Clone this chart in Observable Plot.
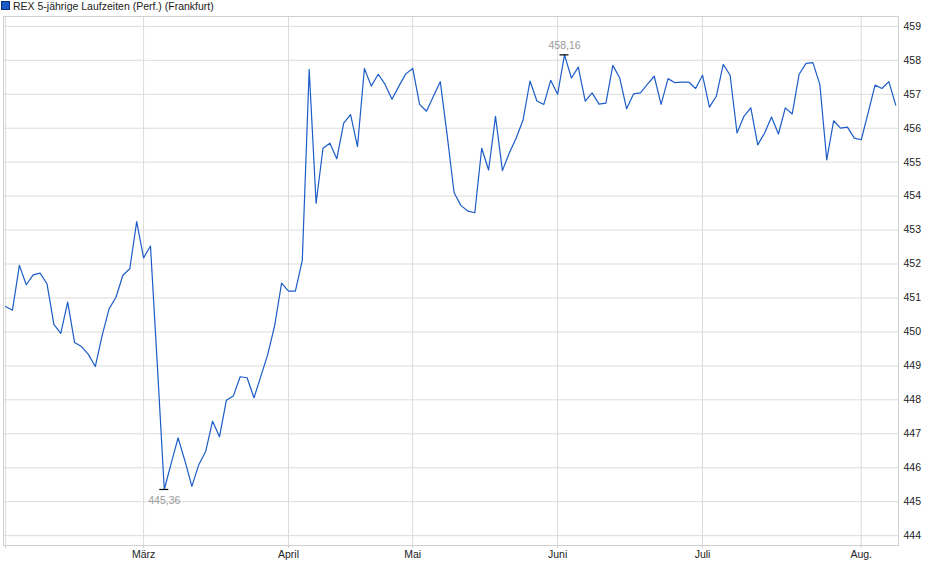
<!DOCTYPE html>
<html><head><meta charset="utf-8">
<script src="https://cdn.jsdelivr.net/npm/d3@7"></script>
<script src="https://cdn.jsdelivr.net/npm/@observablehq/plot@0.6"></script>
<style>
body{margin:0;background:#fff;font-family:"Liberation Sans",Arial,sans-serif;}
#legend{height:15px;font-size:10.5px;color:#222;line-height:13px;padding-left:1px;white-space:nowrap;box-sizing:border-box;padding-top:0px}
#legend .sw{display:inline-block;width:7px;height:7px;background:#1c5cc7;border:1px solid #0a2f7a;margin-right:3px;vertical-align:-0px}
</style></head><body>
<div id="legend"><span class="sw"></span><span id="lt"></span></div>
<div id="chart"></div>
<script>
const seriesName = "REX 5-jährige Laufzeiten (Perf.) (Frankfurt)";
const values = [
 450.75, 450.64, 451.96, 451.39, 451.68, 451.73, 451.42, 450.22, 449.96, 450.88,
 449.69, 449.57, 449.34, 448.98, 449.90, 450.68, 451.02, 451.67, 451.86, 453.25,
 452.18, 452.53, 449.00, 445.36, 446.13, 446.88, 446.20, 445.45, 446.09, 446.48,
 447.37, 446.91, 447.99, 448.11, 448.68, 448.65, 448.06, 448.70, 449.34, 450.19,
 451.44, 451.20, 451.20, 452.11, 457.73, 453.79, 455.41, 455.56, 455.10, 456.15,
 456.40, 455.46, 457.76, 457.24, 457.59, 457.29, 456.85, 457.24, 457.60, 457.76,
 456.70, 456.50, 456.94, 457.37, 455.78, 454.10, 453.72, 453.56, 453.51, 455.41,
 454.77, 456.35, 454.75, 455.27, 455.71, 456.25, 457.39, 456.80, 456.70, 457.41,
 457.00, 458.16, 457.48, 457.80, 456.80, 457.04, 456.71, 456.74, 457.85, 457.48,
 456.57, 457.01, 457.04, 457.29, 457.53, 456.70, 457.46, 457.34, 457.36, 457.36,
 457.17, 457.56, 456.62, 456.94, 457.88, 457.56, 455.86, 456.35, 456.60, 455.51,
 455.86, 456.33, 455.83, 456.60, 456.42, 457.59, 457.91, 457.93, 457.29, 455.07,
 456.22, 456.00, 456.03, 455.71, 455.66, 456.45, 457.27, 457.17, 457.37, 456.68
];
// trading-day index of the first day of each month
const monthStarts = [0, 20, 41, 59, 80, 101, 124];
const monthNames = ["", "März", "April", "Mai", "Juni", "Juli", "Aug."];
const yTicks = [444,445,446,447,448,449,450,451,452,453,454,455,456,457,458,459];

document.getElementById("lt").textContent = seriesName;

const data = values.map((v, i) => ({i, v}));
const minD = data.reduce((a, b) => b.v < a.v ? b : a);
const maxD = data.reduce((a, b) => b.v > a.v ? b : a);
const fmt = v => v.toFixed(2).replace(".", ",");
const grid = "#dcdcdc";

const chart = Plot.plot({
  width: 940, height: 564,
  marginTop: 1, marginBottom: 34, marginLeft: 3, marginRight: 42,
  style: {fontFamily: "'Liberation Sans', Arial, sans-serif", fontSize: "10.5px", color: "#222", background: "#fff"},
  x: {domain: [-0.3, 129.4], axis: null},
  y: {domain: [443.71, 459.29], axis: null},
  marks: [
    Plot.ruleY(yTicks, {stroke: grid}),
    Plot.ruleX(monthStarts, {stroke: grid}),
    Plot.frame({stroke: "#cfcfcf"}),
    Plot.axisY({anchor: "right", ticks: yTicks, tickSize: 0, tickPadding: 5, tickFormat: d => String(d), label: null}),
    Plot.axisX({anchor: "bottom", ticks: monthStarts, tickSize: 3, tickPadding: 2, stroke: "#cfcfcf",
      tickFormat: d => monthNames[monthStarts.indexOf(d)], label: null}),
    Plot.line(data, {x: "i", y: "v", stroke: "#1c5cc7", strokeWidth: 1.2}),
    Plot.ruleY([minD, maxD], {x1: d => d.i - 0.65, x2: d => d.i + 0.65, y: "v", stroke: "#000", strokeWidth: 1.2}),
    Plot.text([minD], {x: "i", y: "v", text: d => fmt(d.v), dy: 11, fill: "#999"}),
    Plot.text([maxD], {x: "i", y: "v", text: d => fmt(d.v), dy: -9, fill: "#999"})
  ]
});
document.getElementById("chart").appendChild(chart);
</script>
</body></html>
